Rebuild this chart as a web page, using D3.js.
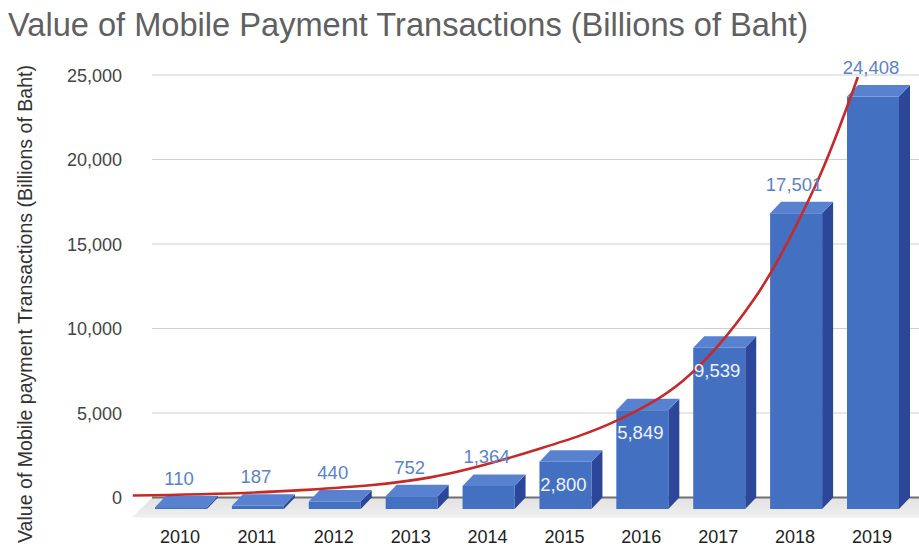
<!DOCTYPE html>
<html>
<head>
<meta charset="utf-8">
<script src="https://cdn.jsdelivr.net/npm/d3@7"></script>
<style>
  html, body { margin: 0; padding: 0; background: #fff; }
  svg { display: block; font-family: "Liberation Sans", Arial, sans-serif; }
</style>
</head>
<body>
<svg id="chart" width="919" height="548"></svg>
<script>
// ---- data ----
const years = ["2010","2011","2012","2013","2014","2015","2016","2017","2018","2019"];
const values = [110, 187, 440, 752, 1364, 2800, 5849, 9539, 17501, 24408];
const yTicks = [0, 5000, 10000, 15000, 20000, 25000];
const insideLabelYears = ["2015","2016","2017"];
// trend curve (category position, value)
const trendPos = [-0.77, 1.37, 3.1, 4.53, 5.53, 6.39, 7.3, 8.1, 8.66];
const trendVal = [120, 420, 1190, 2900, 4560, 6930, 11670, 18370, 24880];

const titleText = "Value of Mobile Payment Transactions (Billions of Baht)";
const yTitleText = "Value of Mobile payment Transactions (Billions of Baht)";

// ---- layout ----
const svg = d3.select("#chart");
const dx = 11, dy = -11.5;         // 3D depth vector
const barW = 52;
const gridLeft = 152, gridRight = 919;

// back-plane y scale
const y = d3.scaleLinear().domain([0, 25000]).range([497.5, 75]);
// front-face centres
const x = d3.scalePoint().domain(years).range([181, 873]);
const xU = d3.scaleLinear().domain([0, 9]).range([181 + dx, 873 + dx]);
const yF = v => y(v) - dy;   // front plane

// title
svg.append("text")
  .attr("x", 8).attr("y", 36)
  .attr("font-size", 32.5)
  .attr("fill", "#606060")
  .attr("textLength", 800)
  .attr("lengthAdjust", "spacingAndGlyphs")
  .text(titleText);

// y axis title
svg.append("text")
  .attr("transform", "translate(32,304) rotate(-90)")
  .attr("text-anchor", "middle")
  .attr("font-size", 19.5)
  .attr("fill", "#333")
  .attr("textLength", 478)
  .attr("lengthAdjust", "spacingAndGlyphs")
  .text(yTitleText);

// gridlines + tick labels via axis
const yAxis = d3.axisLeft(y).tickValues(yTicks).tickFormat(d3.format(",")).tickSize(0).tickPadding(0);
const gAxis = svg.append("g").attr("transform", "translate(122,0)").call(yAxis);
gAxis.select(".domain").remove();
gAxis.selectAll("text")
  .attr("font-size", 18)
  .attr("fill", "#444")
  .attr("font-family", "Liberation Sans, Arial, sans-serif")
  .attr("dy", "0.34em");

svg.append("g").selectAll("line")
  .data(yTicks.filter(d => d > 0))
  .join("line")
  .attr("x1", gridLeft).attr("x2", gridRight)
  .attr("y1", d => y(d)).attr("y2", d => y(d))
  .attr("stroke", "#cfcfcf").attr("stroke-width", 1.2);

// floor
const floorGrad = svg.append("defs").append("linearGradient")
  .attr("id", "floorGrad").attr("x1", 0).attr("y1", 0).attr("x2", 0).attr("y2", 1);
floorGrad.append("stop").attr("offset", "0%").attr("stop-color", "#e2e2e2");
floorGrad.append("stop").attr("offset", "100%").attr("stop-color", "#efefef");
svg.append("path")
  .attr("d", `M${gridLeft},${y(0)} L${gridRight + 20},${y(0)} L${gridRight},${y(0) + 20} L${gridLeft - 20},${y(0) + 20} Z`)
  .attr("fill", "url(#floorGrad)");
svg.append("line")
  .attr("x1", gridLeft).attr("x2", gridRight)
  .attr("y1", y(0)).attr("y2", y(0))
  .attr("stroke", "#707070").attr("stroke-width", 1.8);

// bars
const bars = svg.append("g").selectAll("g")
  .data(years.map((yr, i) => ({ yr, v: values[i] })))
  .join("g");

bars.each(function(d) {
  const g = d3.select(this);
  const xl = x(d.yr) - barW / 2, xr = x(d.yr) + barW / 2;
  const yt = yF(d.v), yb = yF(0);
  // side
  g.append("path")
    .attr("d", `M${xr},${yt} L${xr + dx},${yt + dy} L${xr + dx},${yb + dy} L${xr},${yb} Z`)
    .attr("fill", "#2c479a");
  // front
  g.append("rect")
    .attr("x", xl).attr("y", yt).attr("width", barW).attr("height", yb - yt)
    .attr("fill", "#4470c2");
  // top
  g.append("path")
    .attr("d", `M${xl},${yt} L${xr},${yt} L${xr + dx},${yt + dy} L${xl + dx},${yt + dy} Z`)
    .attr("fill", "#5882d0");
});

// trend line
const line = d3.line()
  .x(d => xU(d[0]))
  .y(d => y(d[1]))
  .curve(d3.curveCatmullRom.alpha(0.5));
svg.append("path")
  .datum(trendPos.map((p, i) => [p, trendVal[i]]))
  .attr("d", line)
  .attr("fill", "none")
  .attr("stroke", "#c62a28")
  .attr("stroke-width", 2.6);

// value labels
svg.append("g").selectAll("text")
  .data(years.map((yr, i) => ({ yr, v: values[i] })))
  .join("text")
  .attr("text-anchor", "middle")
  .attr("font-size", 18.5)
  .attr("x", d => x(d.yr) - 2)
  .attr("y", d => insideLabelYears.includes(d.yr) ? yF(d.v) + 29 : y(d.v) - 11)
  .attr("fill", d => insideLabelYears.includes(d.yr) ? "#eef2fb" : "#5a82c8")
  .text(d => d3.format(",")(d.v));

// x labels
svg.append("g").selectAll("text")
  .data(years)
  .join("text")
  .attr("text-anchor", "middle")
  .attr("font-size", 18)
  .attr("fill", "#222")
  .attr("x", d => x(d) - 1)
  .attr("y", 543)
  .text(d => d);
</script>
</body>
</html>
